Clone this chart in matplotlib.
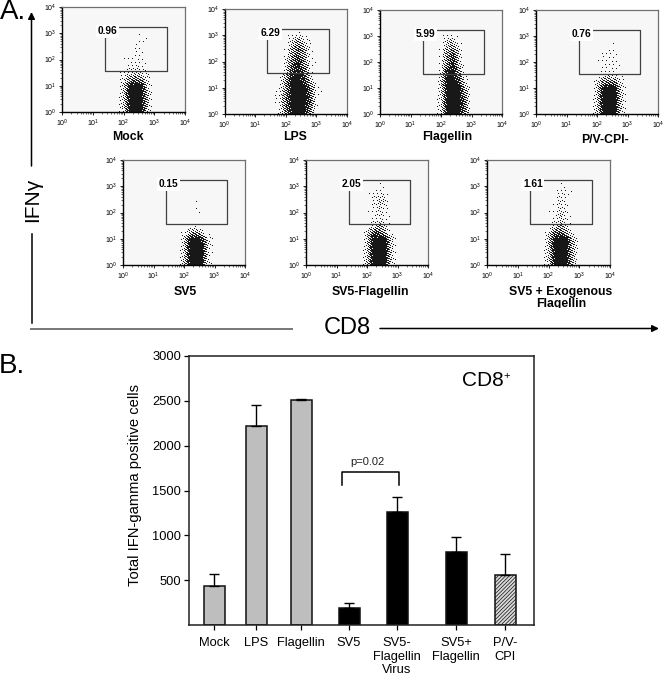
import numpy as np
import matplotlib
matplotlib.use("Agg")
import matplotlib.pyplot as plt
from matplotlib.colors import ListedColormap
from matplotlib.patches import Rectangle

plt.rcParams['font.family'] = ['Liberation Sans', 'DejaVu Sans']
plt.rcParams['mathtext.default'] = 'regular'
plt.rcParams['hatch.linewidth'] = 0.5

W, H = 664, 677

# flow panels: name, gate percentage
panel_names = ["Mock", "LPS", "Flagellin", "P/V-CPI-", "SV5", "SV5-Flagellin",
               "SV5 + Exogenous\nFlagellin"]
gate_pcts = ["0.96", "6.29", "5.99", "0.76", "0.15", "2.05", "1.61"]

# gate limits, log10 units
gate_x = [1.4, 3.4]
gate_y = [1.55, 3.23]

# dot density, digits 0-9
# rows: log y 3.25 down to 0, columns: log x 1.4 to 3.4
grid_logx = [1.4, 1.6, 1.8, 2.0, 2.2, 2.4, 2.6, 2.8, 3.0, 3.2, 3.4]
grid_logy = [3.25, 3.0, 2.75, 2.5, 2.25, 2.0, 1.75, 1.5, 1.25, 1.0, 0.75, 0.5, 0.25, 0.0]

mock_density = ["00000000000", "00000000000", "00000010000", "00000110000", "00000110000",
                "00001110000", "00001210000", "00012321000", "00025652000", "00029992000",
                "00039993000", "00039993000", "00039993000", "00029992000"]
lps_density = ["00000000000", "00001210000", "00003531000", "00014641000", "00015751000",
               "00026851000", "00027961000", "00048972000", "00159984000", "00159996100",
               "00269997100", "00269997100", "00169996100", "00159995000"]
flagellin_density = ["00000000000", "00001100000", "00003410000", "00014520000", "00015830000",
                     "00015820000", "00017940000", "00029960000", "00039972000", "00039994000",
                     "00029995000", "00029996000", "00029996000", "00029995000"]
pv_density = ["00000000000", "00000000000", "00000010000", "00000110000", "00001110000",
              "00001110000", "00001110000", "00001210000", "00025652000", "00029992000",
              "00039993000", "00039993000", "00039993000", "00029992000"]
sv5_density = ["00000000000", "00000000000", "00000000000", "00000000000", "00000100000",
               "00000100000", "00000000000", "00000000000", "00014520000", "00029982000",
               "00039992000", "00039992000", "00039992000", "00039991000"]
sv5flag_density = ["00000000000", "00000100000", "00001210000", "00001320000", "00001320000",
                   "00001210000", "00001210000", "00002420000", "00027730000", "00039993000",
                   "00039993000", "00039993000", "00039993000", "00039992000"]
sv5exo_density = ["00000000000", "00000100000", "00000210000", "00000210000", "00001210000",
                  "00001310000", "00001310000", "00002420000", "00026730000", "00039994000",
                  "00039994000", "00039994000", "00039994000", "00029993000"]
densities = [mock_density, lps_density, flagellin_density, pv_density,
             sv5_density, sv5flag_density, sv5exo_density]

# bar chart
bar_labels = ["Mock", "LPS", "Flagellin", "SV5", "SV5-\nFlagellin\nVirus",
              "SV5+\nFlagellin", "P/V-\nCPI"]
bar_values = [440, 2215, 2510, 195, 1260, 815, 558]
bar_errors = [130, 235, 5, 50, 170, 165, 232]
bar_colors = ["#bebebe", "#bebebe", "#bebebe", "black", "black", "black", "#d8d8d8"]
y_ticks = [500, 1000, 1500, 2000, 2500, 3000]

# layout, all in reference pixels
panel_boxes = [(62, 7, 185, 112), (224.5, 9, 347, 114), (380, 10, 502, 114), (536, 10, 658, 114),
               (123, 160, 245, 265), (306, 160, 428, 265), (487, 160, 610, 265)]
name_pos = [(128, 137), (295, 137), (447, 137), (605, 140), (185, 292), (370, 292), (561, 298)]
bar_pos = [214, 256, 301, 349, 397, 456, 505]
bar_box = (188.7, 356, 534, 625)

flow_cmap = ListedColormap(["#f7f7f7", "#181818"])


def px_axes(fig, box):
    x0, y0, x1, y1 = box
    return fig.add_axes([x0 / W, 1 - y1 / H, (x1 - x0) / W, (y1 - y0) / H])


def stipple(density, nx, ny):
    # density table to a pixel stipple, one cell per pixel over the whole panel
    z = np.array([[int(c) for c in row] for row in density], dtype=float)[::-1]
    logy = np.array(grid_logy)[::-1]
    xs = (np.arange(nx) + 0.5) * 4 / nx
    ys = (np.arange(ny) + 0.5) * 4 / ny
    by_col = np.array([np.interp(ys, logy, z[:, j], right=0) for j in range(z.shape[1])]).T
    fine = np.array([np.interp(xs, grid_logx, row, left=0, right=0) for row in by_col])
    cover = (fine / 9) ** 1.3
    ii, jj = np.meshgrid(np.arange(nx), np.arange(ny))
    threshold = (ii * 0.7549 + jj * 0.5698) % 1
    return cover > threshold


def draw_panel(fig, box, density, pct):
    ax = px_axes(fig, box)
    ax.set_facecolor("#f7f7f7")
    nx, ny = int(box[2] - box[0]), int(box[3] - box[1])
    dots = stipple(density, nx, ny)
    ax.set_xscale("log")
    ax.set_yscale("log")
    ax.pcolormesh(np.logspace(0, 4, nx + 1), np.logspace(0, 4, ny + 1), dots,
                  cmap=flow_cmap, vmin=0, vmax=1, shading="flat")
    ax.set_xlim(1, 1e4)
    ax.set_ylim(1, 1e4)
    ax.set_xticks([1, 10, 100, 1000, 10000])
    ax.set_yticks([1, 10, 100, 1000, 10000])
    ax.tick_params(which="major", labelsize=5, length=2.5, width=0.6, pad=1.5)
    ax.tick_params(which="minor", length=1.2, width=0.4)
    for s in ["top", "right"]:
        ax.spines[s].set_color("#707070")
        ax.spines[s].set_linewidth(0.9)
    for s in ["left", "bottom"]:
        ax.spines[s].set_linewidth(1.0)
    x0, x1 = 10 ** gate_x[0], 10 ** gate_x[1]
    y0, y1 = 10 ** gate_y[0], 10 ** gate_y[1]
    ax.plot([x0, x1, x1, x0, x0], [y1, y1, y0, y0, y1], color="#404040", lw=0.9)
    ax.annotate(pct, (x0, y1), xytext=(2, -3), textcoords="offset points",
                ha="center", va="center", fontsize=7.3, fontweight="bold",
                bbox=dict(facecolor="white", edgecolor="none", pad=1.2))


def draw_bars(fig):
    ax = px_axes(fig, bar_box)
    ax.bar(bar_pos, bar_values, width=21, color=bar_colors, edgecolor="#101010", linewidth=1.1)
    ax.patches[-1].set_hatch("/////////")
    ax.errorbar(bar_pos, bar_values, yerr=[np.zeros(len(bar_errors)), bar_errors], fmt="none",
                ecolor="black", elinewidth=1.0, capsize=3.5, capthick=1.0)
    ax.set_xlim(bar_box[0], bar_box[2])
    ax.set_ylim(0, 3000)
    ax.set_xticks(bar_pos)
    ax.set_xticklabels(bar_labels, fontsize=9, linespacing=1.2)
    ax.set_yticks(y_ticks)
    ax.tick_params(axis="both", length=3.5, width=0.9, labelsize=9.3)
    ax.tick_params(axis="x", pad=5)
    ax.tick_params(axis="y", pad=2)
    for s in ax.spines.values():
        s.set_linewidth(1.1)
        s.set_color("#202020")
    # p value bracket
    ax.plot([342, 342, 399, 399], [1562, 1707, 1707, 1562], color="black", lw=1.1)
    ax.text(367, 1815, "p=0.02", ha="center", va="center", fontsize=8, color="#202020")
    ax.text(483, 2725, "CD8", ha="center", va="center", fontsize=15)
    ax.text(507, 2775, "+", ha="center", va="center", fontsize=8)


def draw_overlay(fig):
    ov = fig.add_axes([0, 0, 1, 1], zorder=5)
    ov.set_xlim(0, W)
    ov.set_ylim(H, 0)
    ov.axis("off")
    ov.patch.set_alpha(0)
    for name, (x, y) in zip(panel_names, name_pos):
        ov.text(x, y, name, ha="center", va="center", fontsize=8.8, fontweight="bold", linespacing=1.05)
    # the last label is cut off at the bottom in the source
    ov.add_patch(Rectangle((500, 307.5), 120, 8, facecolor="white", edgecolor="none", zorder=6))

    ov.text(0, 19, "A.", ha="left", va="baseline", fontsize=20)
    ov.text(-1, 373, "B.", ha="left", va="baseline", fontsize=20)
    ov.text(33, 200, "IFN\u03b3", rotation=90, ha="center", va="center", fontsize=15)
    ov.text(347, 328, "CD8", ha="center", va="center", fontsize=17)
    ov.text(135, 485, "Total IFN-gamma positive cells", rotation=90, ha="center", va="center", fontsize=10.6)

    arrow = dict(arrowstyle="-|>,head_width=0.2,head_length=0.4", color="black", lw=1.1,
                 shrinkA=0, shrinkB=0)
    ov.annotate("", xy=(31.5, 12), xytext=(31.5, 166), arrowprops=arrow)
    ov.plot([31.5, 31.5], [234, 323], color="black", lw=1.1)
    ov.plot([31, 292], [328.5, 328.5], color="#777777", lw=1.4)
    ov.annotate("", xy=(659, 328.5), xytext=(380, 328.5), arrowprops=arrow)


def main():
    fig = plt.figure(figsize=(W / 100, H / 100), dpi=100)
    for box, density, pct in zip(panel_boxes, densities, gate_pcts):
        draw_panel(fig, box, density, pct)
    draw_bars(fig)
    draw_overlay(fig)
    fig.savefig("out.png", dpi=100)


if __name__ == "__main__":
    main()
